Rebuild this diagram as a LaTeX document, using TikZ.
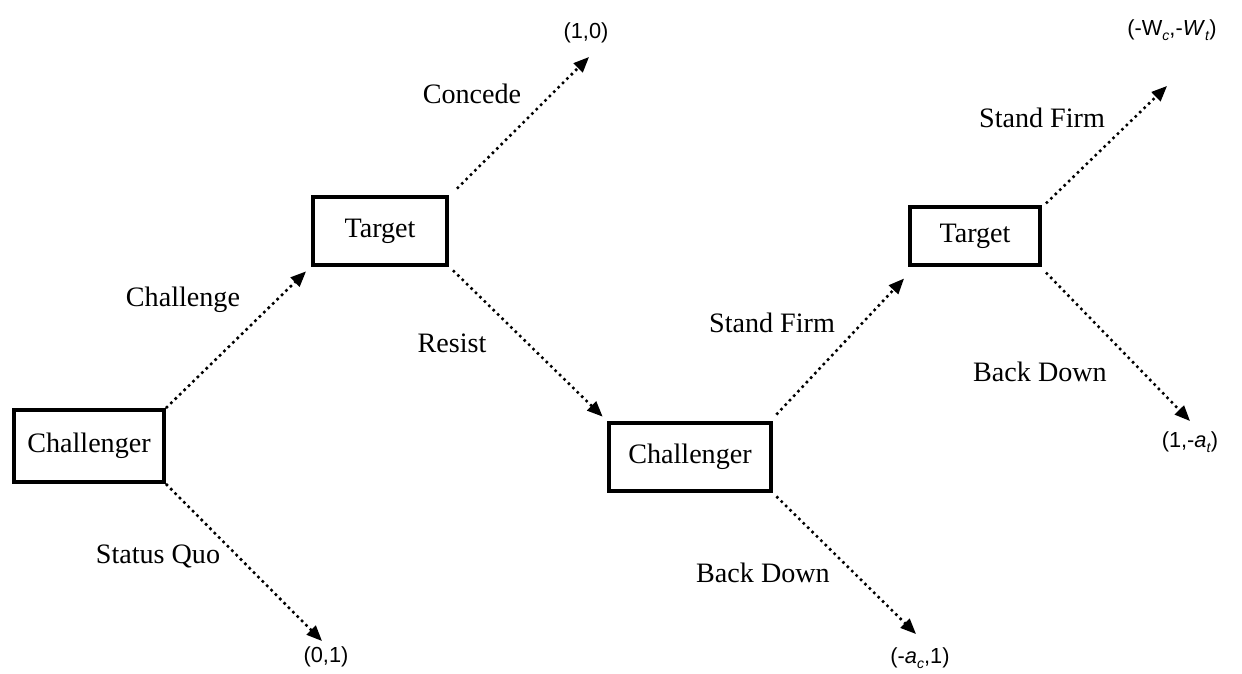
\documentclass[tikz,border=0pt]{standalone}
\usepackage{fontspec}
\setmainfont{Liberation Serif}
\newfontfamily\payfont{Liberation Sans}
\usetikzlibrary{arrows.meta}
\newcommand{\sbs}[1]{\raisebox{-0.4ex}{\fontsize{10}{11}\selectfont\textit{#1}}}
\begin{document}
\begin{tikzpicture}[x=0.025cm,y=-0.025cm,
  player/.style={draw,line width=2.8pt,inner sep=0pt,font=\fontsize{20}{23}\selectfont},
  move/.style={line width=1.8pt,dash pattern=on 1.8pt off 2.6pt,-{Triangle[length=11pt,width=9pt]}},
  lab/.style={font=\fontsize{20}{23}\selectfont},
  pay/.style={font=\payfont\fontsize{15.5}{18}\selectfont}]
\useasboundingbox (0,0) rectangle (1242,673);
\node[player,minimum width=3.75cm,minimum height=1.8cm] (c1) at (89,446) {Challenger};
\node[player,minimum width=3.35cm,minimum height=1.72cm] (t1) at (380,231) {Target};
\node[player,minimum width=4.07cm,minimum height=1.72cm] (c2) at (690,457) {Challenger};
\node[player,minimum width=3.25cm,minimum height=1.43cm] (t2) at (975,236) {Target};
\node[pay] (p1) at (326,657) {(0,1)};
\node[pay] (p2) at (586,33) {(1,0)};
\node[pay] (p3) at (920,658) {(-\textit{a}\sbs{c},1)};
\node[pay] (p4) at (1172,30) {(-W\sbs{c},-\textit{W}\sbs{t})};
\node[pay] (p5) at (1190,442) {(1,-\textit{a}\sbs{t})};
\coordinate (e1) at (322,641);
\coordinate (e2) at (589,57);
\coordinate (e3) at (916,634);
\coordinate (e4) at (1167,86);
\coordinate (e5) at (1190,421);
\draw[move] (c1.north east) -- ([shift={(-5,4)}]t1.south west);
\draw[move] (c1.south east) -- (e1);
\draw[move] ([shift={(8,-6)}]t1.north east) -- (e2);
\draw[move] ([shift={(4,3)}]t1.south east) -- ([shift={(-4,-4)}]c2.north west);
\draw[move] ([shift={(3,-6)}]c2.north east) -- ([shift={(-4,12)}]t2.south west);
\draw[move] ([shift={(3,3)}]c2.south east) -- (e3);
\draw[move] ([shift={(4,-2)}]t2.north east) -- (e4);
\draw[move] ([shift={(4,6)}]t2.south east) -- (e5);
\node[lab] (l1) at (183,300) {Challenge};
\node[lab] (l2) at (472,94) {Concede};
\node[lab] (l3) at (452,343) {Resist};
\node[lab] (l4) at (772,323) {Stand Firm};
\node[lab] (l5) at (1042,118) {Stand Firm};
\node[lab] (l6) at (1040,372) {Back Down};
\node[lab] (l7) at (763,573) {Back Down};
\node[lab] (l8) at (158,556) {Status Quo};
\end{tikzpicture}
\end{document}
